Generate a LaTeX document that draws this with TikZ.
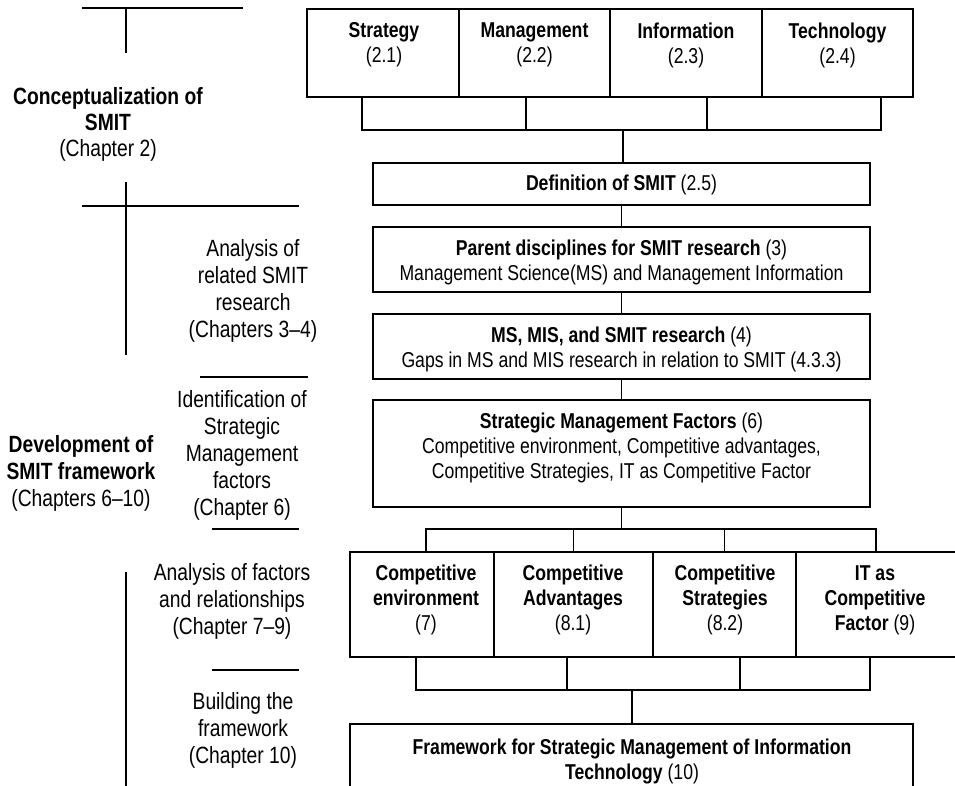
\documentclass[tikz,border=0pt]{standalone}
\usepackage{fontspec}
\setmainfont[FakeStretch=0.82]{Liberation Sans}
\begin{document}
\begin{tikzpicture}[x=1pt,y=-1pt,
  box/.style={draw, line width=1.5pt, inner sep=0pt},
  btxt/.style={align=center, inner sep=0pt, font=\fontsize{21.5}{25}\selectfont},
  ltxt/.style={align=center, inner sep=0pt, font=\fontsize{23.5}{27}\selectfont},
  ln/.style={line width=1.3pt}]
\useasboundingbox (0,0) rectangle (955,785);

% ---- left column ----
\coordinate (l1a) at (82,8);   \coordinate (l1b) at (243,8);
\coordinate (v1a) at (126,8);  \coordinate (v1b) at (126,53);
\draw[ln] (l1a) -- (l1b);
\draw[ln] (v1a) -- (v1b);
\node[ltxt] (conc) at (108,124) {\textbf{Conceptualization of}\\[-1pt]\textbf{SMIT}\\[-1pt](Chapter 2)};

\coordinate (v2a) at (126,182); \coordinate (v2b) at (126,355);
\coordinate (l2a) at (82,206);  \coordinate (l2b) at (299,206);
\draw[ln] (v2a) -- (v2b);
\draw[ln] (l2a) -- (l2b);
\node[ltxt] (anal1) at (253,291) {Analysis of\\related SMIT\\research\\(Chapters 3–4)};

\coordinate (l3a) at (200,377); \coordinate (l3b) at (308,377);
\draw[ln] (l3a) -- (l3b);
\node[ltxt] (ident) at (242,455) {Identification of\\Strategic\\Management\\factors\\(Chapter 6)};

\node[ltxt] (devel) at (81,473) {\textbf{Development of}\\\textbf{SMIT framework}\\(Chapters 6–10)};

\coordinate (l4a) at (212,529); \coordinate (l4b) at (299,529);
\draw[ln] (l4a) -- (l4b);
\coordinate (v3a) at (126,572); \coordinate (v3b) at (126,790);
\draw[ln] (v3a) -- (v3b);
\node[ltxt] (anal2) at (232,601) {Analysis of factors\\and relationships\\(Chapter 7–9)};

\coordinate (l5a) at (212,670); \coordinate (l5b) at (299,670);
\draw[ln] (l5a) -- (l5b);
\node[ltxt] (build) at (243,730) {Building the\\framework\\(Chapter 10)};

% ---- top boxes ----
\node[box, minimum width=152pt, minimum height=88pt] (s1) at (383,53) {};
\node[box, minimum width=151pt, minimum height=88pt] (s2) at (534.5,53) {};
\node[box, minimum width=152pt, minimum height=88pt] (s3) at (686,53) {};
\node[box, minimum width=151pt, minimum height=88pt] (s4) at (837.5,53) {};
\node[btxt] (s1t) at (384,45) {\textbf{Strategy}\\(2.1)};
\node[btxt] (s2t) at (534.5,45) {\textbf{Management}\\(2.2)};
\node[btxt] (s3t) at (686,45) {\textbf{Information}\\(2.3)};
\node[btxt] (s4t) at (837.5,45) {\textbf{Technology}\\(2.4)};

% ---- middle boxes ----
\node[box, minimum width=497pt, minimum height=42pt] (def) at (621.5,184) {};
\node[btxt] (deft) at (621.5,185) {\textbf{Definition of SMIT} (2.5)};
\node[box, minimum width=497pt, minimum height=65pt] (par) at (621.5,259.5) {};
\node[btxt] (part) at (621.5,262.5) {\textbf{Parent disciplines for SMIT research} (3)\\Management Science(MS) and Management Information};
\node[box, minimum width=497pt, minimum height=65pt] (ms) at (621.5,346.5) {};
\node[btxt] (mst) at (621.5,349.5) {\textbf{MS, MIS, and SMIT research} (4)\\Gaps in MS and MIS research in relation to SMIT (4.3.3)};
\node[box, minimum width=497pt, minimum height=107pt] (smf) at (621.5,453.5) {};
\node[btxt] (smft) at (621.5,448) {\textbf{Strategic Management Factors} (6)\\Competitive environment, Competitive advantages,\\Competitive Strategies, IT as Competitive Factor};

% ---- competitive boxes ----
\node[box, minimum width=144pt, minimum height=105pt] (c1) at (422,604.5) {};
\node[box, minimum width=159pt, minimum height=105pt] (c2) at (573.5,604.5) {};
\node[box, minimum width=143pt, minimum height=105pt] (c3) at (724.5,604.5) {};
\node[box, minimum width=161pt, minimum height=105pt] (c4) at (876.5,604.5) {};
\node[btxt] (c1t) at (426,600) {\textbf{Competitive}\\\textbf{environment}\\(7)};
\node[btxt] (c2t) at (573,600) {\textbf{Competitive}\\\textbf{Advantages}\\(8.1)};
\node[btxt] (c3t) at (725,600) {\textbf{Competitive}\\\textbf{Strategies}\\(8.2)};
\node[btxt] (c4t) at (875,600) {\textbf{IT as}\\\textbf{Competitive}\\\textbf{Factor} (9)};

% ---- framework box ----
\node[box, minimum width=563pt, minimum height=90pt] (fw) at (631.5,769) {};
\node[btxt] (fwt) at (632,761.5) {\textbf{Framework for Strategic Management of Information}\\\textbf{Technology} (10)};

% ---- connectors ----
\coordinate (tb) at (623,130);
\draw[ln] ([xshift=-21pt]s1.south) |- (tb);
\draw[ln] ([xshift=-8.5pt]s2.south) |- (tb);
\draw[ln] ([xshift=21pt]s3.south) |- (tb);
\draw[ln] ([xshift=43.5pt]s4.south) |- (tb);
\draw[ln] (tb) -- (tb |- def.north);

\draw[ln] (def.south) -- (par.north);
\draw[ln] (par.south) -- (ms.north);
\draw[ln] (ms.south) -- (smf.north);

\coordinate (mb) at (621.5,529);
\draw[ln] (smf.south) -- (mb);
\draw[ln] ([xshift=4pt]c1.north) |- (mb);
\draw[ln] (c2.north) |- (mb);
\draw[ln] (c3.north) |- (mb);
\draw[ln] ([xshift=-0.5pt]c4.north) |- (mb);

\coordinate (bb) at (632,690);
\draw[ln] ([xshift=-6pt]c1.south) |- (bb);
\draw[ln] ([xshift=-6.5pt]c2.south) |- (bb);
\draw[ln] ([xshift=15.5pt]c3.south) |- (bb);
\draw[ln] ([xshift=-6.5pt]c4.south) |- (bb);
\draw[ln] (bb) -- (bb |- fw.north);
\end{tikzpicture}
\end{document}
